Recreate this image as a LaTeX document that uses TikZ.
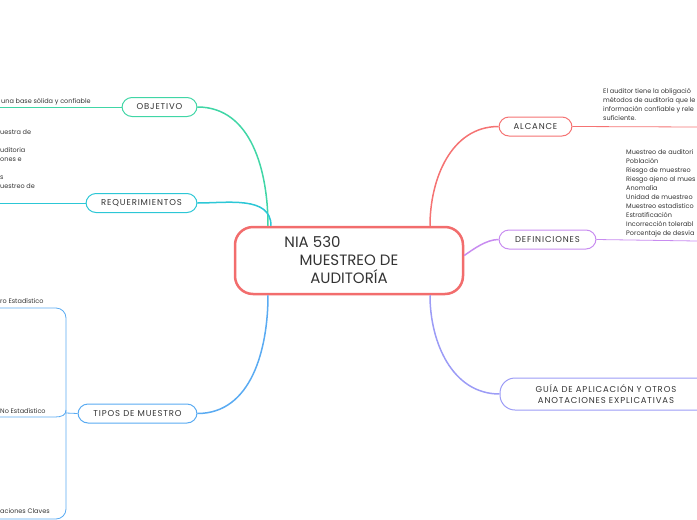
\documentclass[tikz,border=0pt]{standalone}
\usepackage{fontspec}
\setmainfont{Poppins}
\newfontfamily\labelfont[LetterSpace=10]{Poppins}
\definecolor{maincol}{HTML}{F26D6D}
\definecolor{objcol}{HTML}{40D6A6}
\definecolor{reqcol}{HTML}{2CC7D6}
\definecolor{tipcol}{HTML}{5AABF2}
\definecolor{alccol}{HTML}{F57373}
\definecolor{defcol}{HTML}{C88CF0}
\definecolor{guiacol}{HTML}{9C9CF6}
\definecolor{txtcol}{HTML}{333333}
\tikzset{
  branch/.style={draw=#1, fill=white, rounded corners=10pt, line width=1pt,
    minimum height=19pt, inner sep=0pt, text=txtcol,
    font=\labelfont\fontsize{8.5}{11}\selectfont},
  link/.style={line width=1.5pt},
  leaf/.style={line width=0.8pt},
  note/.style={inner sep=0pt, text=txtcol, font=\fontsize{6.5}{9}\selectfont}
}
\begin{document}
\begin{tikzpicture}[x=1pt,y=-1pt]
\useasboundingbox (0,0) rectangle (697,520);
\clip (0,0) rectangle (697,520);
% nodo central
\node[draw=maincol, fill=white, line width=2.5pt, rounded corners=18pt,
  minimum width=228pt, minimum height=67pt, align=center, text=txtcol,
  font=\fontsize{15}{18}\selectfont] (nia) at (349,260.5)
  {NIA 530\hspace*{73pt}\\MUESTREO DE\\AUDITORÍA};
% ramas
\node[branch=objcol, minimum width=75pt] (obj) at (159.5,107) {OBJETIVO};
\node[branch=reqcol, minimum width=111pt] (req) at (141.5,203) {REQUERIMIENTOS};
\node[branch=tipcol, minimum width=119pt] (tip) at (137.5,413.5) {TIPOS DE MUESTRO};
\node[branch=alccol, minimum width=73pt] (alc) at (535.5,126.5) {ALCANCE};
\node[branch=defcol, minimum width=97pt] (def) at (547.5,239.5) {DEFINICIONES};
\node[branch=guiacol, minimum width=212pt, minimum height=32pt, rounded corners=15pt,
  align=center] (guia) at (606,394)
  {GUÍA DE APLICACIÓN Y OTROS\\ANOTACIONES EXPLICATIVAS};
% conectores
\draw[link, objcol] ([xshift=-81pt]nia.north) to[out=90,in=0] (obj.east);
\draw[link, reqcol] ([xshift=-78pt]nia.north) to[out=90,in=0] (req.east);
\draw[link, tipcol] ([xshift=-81pt]nia.south) to[out=-90,in=0] (tip.east);
\draw[link, alccol] ([xshift=81pt]nia.north) to[out=90,in=180] (alc.west);
\draw[link, defcol] ([yshift=5pt]nia.east) to[out=35,in=180,looseness=0.8] (def.west);
\draw[link, guiacol] ([xshift=81pt]nia.south) to[out=-90,in=180] (guia.west);
% hojas
\coordinate (obj-end) at (0,107);
\coordinate (req-end) at (0,203);
\coordinate (alc-end) at (697,127);
\coordinate (def-end) at (697,241);
\coordinate (tp-top) at (0,308);
\coordinate (tp-mid) at (0,417);
\coordinate (tp-bot) at (0,519);
\draw[leaf, objcol] (obj.west) -- (obj-end);
\draw[leaf, reqcol] (req.west) -- (req-end);
\draw[leaf, alccol] (alc.east) -- (alc-end);
\draw[leaf, defcol] (def.east) -- (def-end);
\draw[leaf, tipcol, rounded corners=10pt] (tp-top) -- (66,308) -- (66,519) -- (tp-bot);
\draw[leaf, tipcol] (tip.west) -- (66,413);
\draw[leaf, tipcol] (tp-mid) -- (55,417) .. controls (62,417) and (66,415) .. (66,410);
% textos
\node[note, anchor=base west] (obj-txt) at (1,103) {una base sólida y confiable};
\foreach \t [count=\i] in {uestra de, {}, uditoria, ones e, {}, s, uestreo de}
  \node[note, anchor=base west] (req-\i) at (0,125+9*\i) {\t};
\foreach \t [count=\i] in {El auditor tiene la obligació, métodos de auditoría que le,
    información confiable y rele, suficiente.}
  \node[note, anchor=base west] (alc-\i) at (603,84+9*\i) {\t};
\foreach \t [count=\i] in {Muestreo de auditori, Población, Riesgo de muestreo,
    Riesgo ajeno al mues, Anomalía, Unidad de muestreo, Muestreo estadístico,
    Estratificación, Incorrección tolerabl, Porcentaje de desvia}
  \node[note, anchor=base west] (def-\i) at (626,145+9*\i) {\t};
\node[note, anchor=base west] (tp-1) at (0,303) {ro Estadístico};
\node[note, anchor=base west] (tp-2) at (0,413) {No Estadístico};
\node[note, anchor=base west] (tp-3) at (0,513) {aciones Claves};
\end{tikzpicture}
\end{document}
